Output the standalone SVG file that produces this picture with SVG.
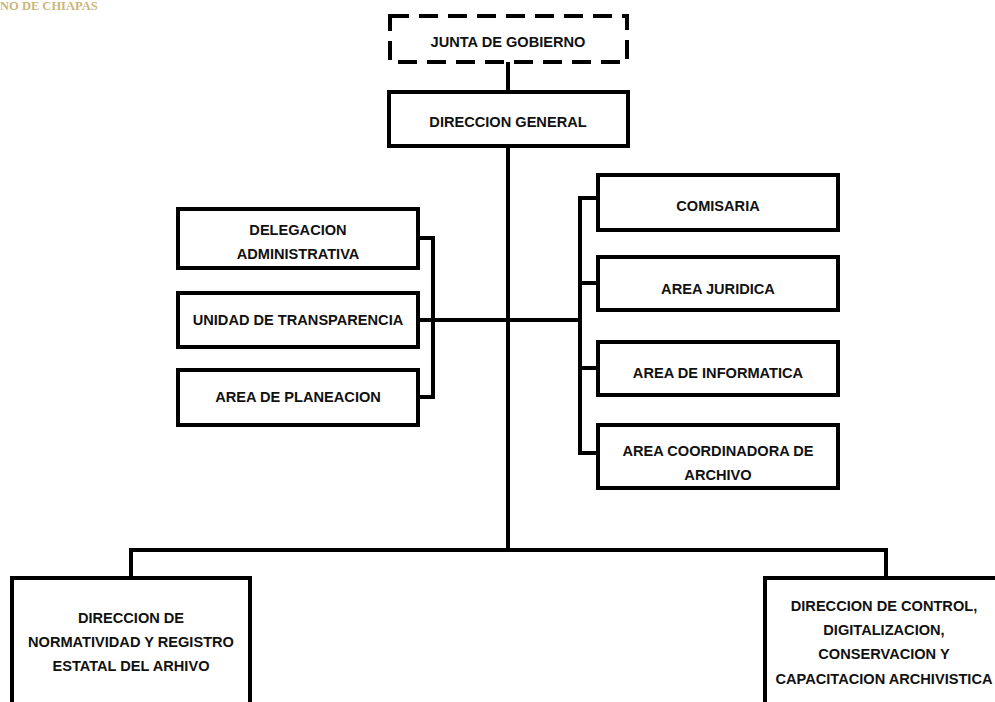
<svg xmlns="http://www.w3.org/2000/svg" width="995" height="702" viewBox="0 0 995 702">
<style>
.box{fill:#fff;stroke:#000;stroke-width:4}
.dash{fill:#fff;stroke:#000;stroke-width:4;stroke-dasharray:19 10}
.t{font-family:"Liberation Sans",Arial,sans-serif;font-weight:bold;font-size:14.6px;fill:#111;text-anchor:middle}
.c{fill:none;stroke:#000;stroke-width:4}
.hdr{font-family:"Liberation Serif",serif;font-weight:bold;font-size:12.5px;fill:#cbb77a}
</style>
<rect width="995" height="702" fill="#fff"/>
<text class="hdr" x="0" y="10">NO DE CHIAPAS</text>
<g id="connectors">
<path class="c" d="M508 62V550"/>
<path class="c" d="M418 320H580"/>
<path class="c" d="M418 238H433V397H418"/>
<path class="c" d="M598 198H580V453H598M580 283H598M580 368H598"/>
<path class="c" d="M131 578V550H886V578"/>
</g>
<g id="junta"><rect class="dash" x="390" y="16" width="237" height="46"/><text class="t" x="508" y="47">JUNTA DE GOBIERNO</text></g>
<g id="direccion-general"><rect class="box" x="389" y="92" width="239" height="54"/><text class="t" x="508" y="127">DIRECCION GENERAL</text></g>
<g id="delegacion"><rect class="box" x="178" y="209" width="240" height="59"/><text class="t" x="298" y="235">DELEGACION</text><text class="t" x="298" y="259">ADMINISTRATIVA</text></g>
<g id="transparencia"><rect class="box" x="178" y="293" width="240" height="54"/><text class="t" x="298" y="325">UNIDAD DE TRANSPARENCIA</text></g>
<g id="planeacion"><rect class="box" x="178" y="370" width="240" height="55"/><text class="t" x="298" y="402">AREA DE PLANEACION</text></g>
<g id="comisaria"><rect class="box" x="598" y="175" width="240" height="55"/><text class="t" x="718" y="211">COMISARIA</text></g>
<g id="juridica"><rect class="box" x="598" y="257" width="240" height="53"/><text class="t" x="718" y="294">AREA JURIDICA</text></g>
<g id="informatica"><rect class="box" x="598" y="342" width="240" height="53"/><text class="t" x="718" y="378">AREA DE INFORMATICA</text></g>
<g id="archivo"><rect class="box" x="598" y="425" width="240" height="63"/><text class="t" x="718" y="456">AREA COORDINADORA DE</text><text class="t" x="718" y="480">ARCHIVO</text></g>
<g id="normatividad"><rect class="box" x="12" y="578" width="238" height="140"/><text class="t" x="131" y="623">DIRECCION DE</text><text class="t" x="131" y="647">NORMATIVIDAD Y REGISTRO</text><text class="t" x="131" y="671">ESTATAL DEL ARHIVO</text></g>
<g id="control"><rect class="box" x="765" y="578" width="250" height="140"/><text class="t" x="884" y="611">DIRECCION DE CONTROL,</text><text class="t" x="884" y="635">DIGITALIZACION,</text><text class="t" x="884" y="659">CONSERVACION Y</text><text class="t" x="884" y="684">CAPACITACION ARCHIVISTICA</text></g>
</svg>
